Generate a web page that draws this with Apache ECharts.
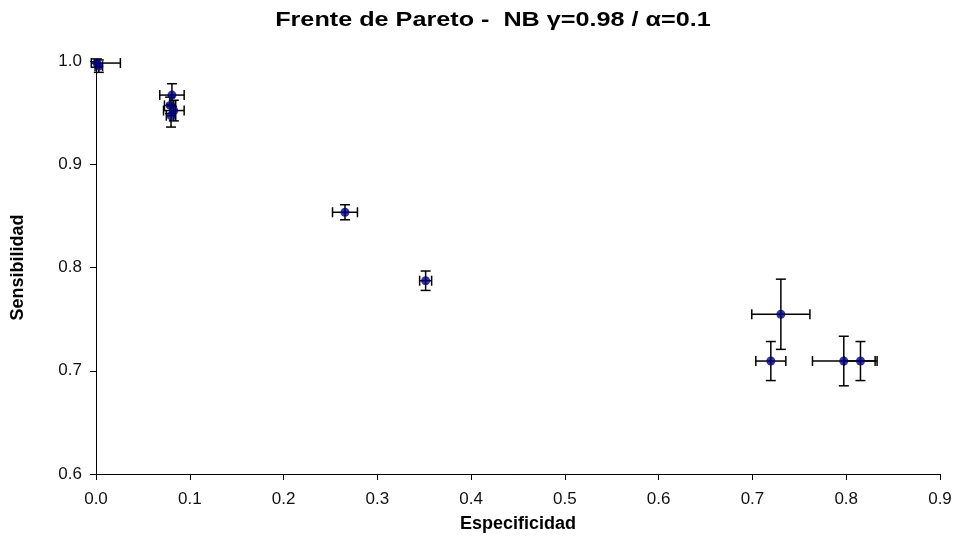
<!DOCTYPE html>
<html>
<head>
<meta charset="utf-8">
<script src="https://cdn.jsdelivr.net/npm/echarts@6/dist/echarts.min.js"></script>
<style>
  html, body { margin: 0; padding: 0; background: #fff; }
  #chart { width: 956px; height: 538px; }
</style>
</head>
<body>
<div id="chart"></div>
<script>
// Pareto front points: specificity (x), sensitivity (y) and their error bars
const especificidad = [0.001, 0.003, 0.081, 0.079, 0.083, 0.080, 0.2655, 0.3515, 0.7303, 0.7196, 0.7974, 0.8152];
const sensibilidad  = [0.998, 0.995, 0.967, 0.957, 0.952, 0.947, 0.8535, 0.7872, 0.7547, 0.7094, 0.7094, 0.7094];
const errXMenos     = [0.006, 0.004, 0.013, 0.006, 0.011, 0.005, 0.0133, 0.0064, 0.031, 0.016, 0.0334, 0.0177];
const errXMas       = [0.025, 0.004, 0.013, 0.006, 0.011, 0.005, 0.0133, 0.0064, 0.031, 0.016, 0.0334, 0.0177];
const errY          = [0.004, 0.006, 0.011, 0.008, 0.010, 0.011, 0.0073, 0.0094, 0.034, 0.0189, 0.024, 0.0189];

const xTicks = ['0.0', '0.1', '0.2', '0.3', '0.4', '0.5', '0.6', '0.7', '0.8', '0.9'];
const yTicks = ['0.6', '0.7', '0.8', '0.9', '1.0'];

const titulo = 'Frente de Pareto -  NB γ=0.98 / α=0.1';

const puntos = especificidad.map((x, i) => [x, sensibilidad[i]]);
const barras = especificidad.map((x, i) => [x, sensibilidad[i], errXMenos[i], errXMas[i], errY[i]]);

const FONT = 'Liberation Sans, Arial, sans-serif';
const CAP = 5;
function dibujarError(params, api) {
  const x = api.value(0), y = api.value(1);
  const c = api.coord([x, y]);
  const l = api.coord([x - api.value(2), y]);
  const r = api.coord([x + api.value(3), y]);
  const t = api.coord([x, y + api.value(4)]);
  const b = api.coord([x, y - api.value(4)]);
  const style = { stroke: '#000', lineWidth: 1.5 };
  const line = (x1, y1, x2, y2) => ({ type: 'line', shape: { x1, y1, x2, y2 }, style });
  return {
    type: 'group',
    children: [
      line(l[0], c[1], r[0], c[1]),
      line(l[0], c[1] - CAP, l[0], c[1] + CAP),
      line(r[0], c[1] - CAP, r[0], c[1] + CAP),
      line(c[0], t[1], c[0], b[1]),
      line(c[0] - CAP, t[1], c[0] + CAP, t[1]),
      line(c[0] - CAP, b[1], c[0] + CAP, b[1])
    ]
  };
}

const chart = echarts.init(document.getElementById('chart'), null, { renderer: 'canvas' });
chart.setOption({
  animation: false,
  backgroundColor: '#fff',
  graphic: [{
    type: 'text',
    x: 493,
    y: 20,
    scaleX: 1.2,
    style: {
      text: titulo,
      font: 'bold 21px ' + FONT,
      fill: '#000',
      textAlign: 'center',
      textVerticalAlign: 'middle'
    }
  }],
  grid: { left: 96, right: 16, top: 61, bottom: 64, outerBoundsMode: 'none', containLabel: false },
  xAxis: {
    type: 'value', min: 0, max: 0.9, interval: 0.1,
    name: 'Especificidad', nameLocation: 'middle', nameGap: 41,
    nameTextStyle: { fontFamily: FONT, fontWeight: 'bold', fontSize: 18, color: '#000' },
    axisLine: { show: true, onZero: false, lineStyle: { color: '#000', width: 1 } },
    axisTick: { show: true, length: 6, inside: false, lineStyle: { color: '#000' } },
    axisLabel: {
      margin: 17, fontFamily: FONT, fontSize: 17, color: '#111',
      formatter: (v) => xTicks[Math.round(v * 10)]
    },
    splitLine: { show: false }
  },
  yAxis: {
    type: 'value', min: 0.6, max: 1.0, interval: 0.1,
    name: 'Sensibilidad', nameLocation: 'middle', nameGap: 69,
    nameTextStyle: { fontFamily: FONT, fontWeight: 'bold', fontSize: 18, color: '#000' },
    axisLine: { show: true, onZero: false, lineStyle: { color: '#000', width: 1 } },
    axisTick: { show: true, length: 6, inside: false, lineStyle: { color: '#000' } },
    axisLabel: {
      margin: 14, fontFamily: FONT, fontSize: 17, color: '#111',
      formatter: (v) => yTicks[Math.round(v * 10) - 6]
    },
    splitLine: { show: false }
  },
  series: [
    {
      type: 'custom',
      renderItem: dibujarError,
      data: barras,
      clip: false,
      z: 2
    },
    {
      type: 'scatter',
      data: puntos,
      symbol: 'circle',
      symbolSize: 9,
      itemStyle: { color: '#000080' },
      z: 3
    }
  ]
});
</script>
</body>
</html>
